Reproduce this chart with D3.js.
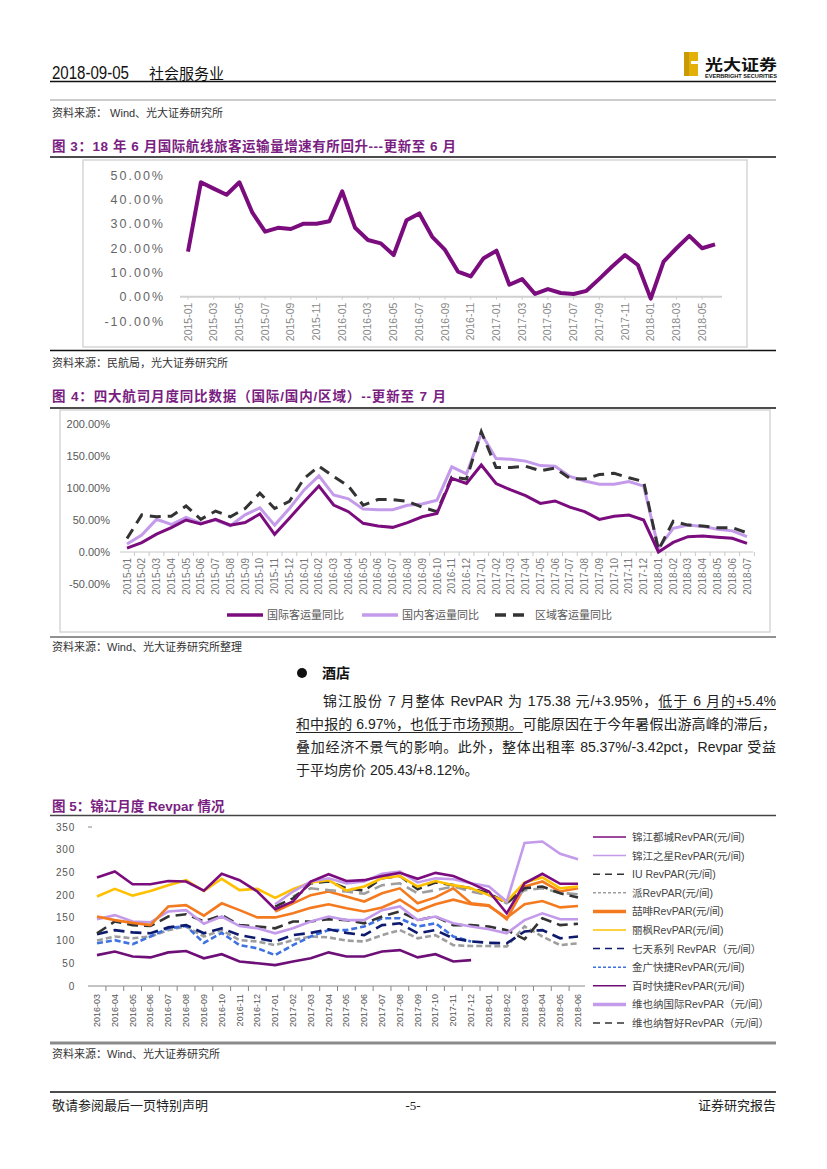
<!DOCTYPE html>
<html><head><meta charset="utf-8">
<script src="https://cdn.jsdelivr.net/npm/d3@7"></script>
<style>
body{margin:0;background:#fff;}
#page{position:relative;width:827px;height:1169px;overflow:hidden;}
svg{position:absolute;left:0;top:0;}
.pl{position:absolute;left:296px;width:480px;height:20px;line-height:20px;font-size:14px;color:#222;
 font-family:"Liberation Sans","Noto Sans CJK SC",sans-serif;text-align:justify;white-space:nowrap;}
.pl.j{text-align-last:justify;white-space:normal;}
.pl u{text-decoration:underline;text-underline-offset:3px;text-decoration-thickness:1px;}
</style></head>
<body><div id="page"><svg id="svg" width="827" height="1169"></svg>
<div class="pl j" style="top:691px;padding-left:27px;width:453px;">锦江股份 7 月整体 RevPAR 为 175.38 元/+3.95%，<u>低于 6 月的+5.4%</u></div>
<div class="pl j" style="top:714px;"><u>和中报的 6.97%，也低于市场预期。</u>可能原因在于今年暑假出游高峰的滞后，</div>
<div class="pl j" style="top:737px;">叠加经济不景气的影响。此外，整体出租率 85.37%/-3.42pct，Revpar 受益</div>
<div class="pl" style="top:760px;">于平均房价 205.43/+8.12%。</div>
</div>
<script>
// ---------------- DATA ----------------
const c3Months = ["2015-01","2015-02","2015-03","2015-04","2015-05","2015-06","2015-07","2015-08","2015-09","2015-10","2015-11","2015-12",
 "2016-01","2016-02","2016-03","2016-04","2016-05","2016-06","2016-07","2016-08","2016-09","2016-10","2016-11","2016-12",
 "2017-01","2017-02","2017-03","2017-04","2017-05","2017-06","2017-07","2017-08","2017-09","2017-10","2017-11","2017-12",
 "2018-01","2018-02","2018-03","2018-04","2018-05","2018-06"];
const c3Labels = ["2015-01","2015-03","2015-05","2015-07","2015-09","2015-11","2016-01","2016-03","2016-05","2016-07","2016-09","2016-11",
 "2017-01","2017-03","2017-05","2017-07","2017-09","2017-11","2018-01","2018-03","2018-05"];
const c3Values = [18.5,47,44.4,41.9,47,34.6,26.7,28.3,27.8,30,30,31,
 43.3,28.3,23.3,21.9,17.1,31.4,34.2,24.6,19.2,10.3,8.3,15.8,
 18.9,4.9,7.2,1.1,3.1,1.5,1.1,2.4,7.3,12.4,17.1,13,
 -0.8,14.4,19.9,25,19.9,21.5];
const c3YTicks = [-10,0,10,20,30,40,50];

const c4Months = ["2015-01","2015-02","2015-03","2015-04","2015-05","2015-06","2015-07","2015-08","2015-09","2015-10","2015-11","2015-12",
 "2016-01","2016-02","2016-03","2016-04","2016-05","2016-06","2016-07","2016-08","2016-09","2016-10","2016-11","2016-12",
 "2017-01","2017-02","2017-03","2017-04","2017-05","2017-06","2017-07","2017-08","2017-09","2017-10","2017-11","2017-12",
 "2018-01","2018-02","2018-03","2018-04","2018-05","2018-06","2018-07"];
const c4Intl = [6,14.6,28,38,50,43.7,51,42,46,59.4,27.6,52.6,
 78.6,103,73.4,63,44.8,40.6,38.5,46,55,60.4,115,107,
 136,107,97,88,76,79.7,70,63,51,56,57.8,50,
 0,15,24,25,23,21.4,13.5];
const c4Dom = [12.5,26.5,51,43,54,45,50,41,58,69,42,68,
 97,119,89,83,67,66,66,73,75,81,133,122,
 185,146,145,142,135,134,118,111,106,106,110,103,
 6,37,42,40,35.5,33,24];
const c4Reg = [21,58,55,56,72,51,64,55,68,92,68,79,
 115,134,118,103,73,82,82,79,70,63,117,114,
 188,132,132,134,127,131,115,114,121,123,116,110,
 3,48,42,40.6,38,38,30];
const c4Names = ["国际客运量同比","国内客运量同比","区域客运量同比"];
const c4YTicks = [-50,0,50,100,150,200];

const c5Months = ["2016-03","2016-04","2016-05","2016-06","2016-07","2016-08","2016-09","2016-10","2016-11","2016-12",
 "2017-01","2017-02","2017-03","2017-04","2017-05","2017-06","2017-07","2017-08","2017-09","2017-10","2017-11","2017-12",
 "2018-01","2018-02","2018-03","2018-04","2018-05","2018-06"];
const c5YTicks = [0,50,100,150,200,250,300,350];
const c5Names = ["锦江都城RevPAR(元/间)","锦江之星RevPAR(元/间)","IU RevPAR(元/间)","派RevPAR(元/间)","喆啡RevPAR(元/间)",
 "丽枫RevPAR(元/间)","七天系列 RevPAR（元/间）","金广快捷RevPAR(元/间)","百时快捷RevPAR(元/间)",
 "维也纳国际RevPAR（元/间）","维也纳智好RevPAR（元/间）","系列12","系列13"];
const N = null;
const c5Dushi   = [239,252,224,224,231,230,210,247,233,208,169,186,230,246,231,233,242,249,236,249,242,226,208,160,226,247,225,225];
const c5Zhixing = [147,156,142,140,164,167,137,153,132,127,116,127,142,153,145,145,167,175,145,153,138,131,125,116,145,160,147,147];
const c5IU      = [116,142,134,132,153,158,142,156,134,131,127,142,142,147,145,138,153,164,145,153,134,134,131,123,103,149,134,137];
const c5Pai     = [100,109,105,109,123,131,109,123,101,98,90,101,109,107,100,98,112,123,105,112,90,88,88,87,131,109,90,94];
const c5Zhefei  = [153,145,139,134,175,178,155,182,167,151,151,160,172,180,171,164,173,190,165,180,190,180,176,150,180,187,173,176];
const c5Lifeng  = [197,214,199,209,222,233,209,236,211,214,194,213,228,233,210,219,237,242,219,231,222,215,200,186,228,239,215,219];
const c5Qitian  = [114,123,118,116,129,134,116,127,112,105,98,112,117,125,117,112,134,138,116,123,105,98,95,94,120,123,105,109];
const c5Jinguang= [94,101,92,109,127,132,95,117,90,83,68,90,109,123,123,131,149,149,131,138,109,98,N,N,N,N,N,N];
const c5Baishi  = [68,76,65,63,74,77,61,70,54,50,46,54,61,74,65,65,76,79,63,70,54,57,N,N,N,N,N,N];
const c5ViennaI = [N,N,N,N,N,N,N,N,N,N,180,208,230,237,226,230,247,252,228,237,235,226,219,186,315,318,291,279];
const c5ViennaZ = [N,N,N,N,N,N,N,N,N,N,175,193,226,230,215,210,237,242,213,228,222,215,204,183,215,219,204,195];
const c5Extra12 = [N,N,N,N,N,N,N,N,N,N,N,197,215,211,208,203,222,226,204,211,219,208,200,182,211,215,205,202];
const c5Extra13 = [N,N,N,N,N,N,N,N,N,N,164,182,200,208,197,186,204,215,182,195,215,182,178,147,219,230,208,215];
const c5Series = [c5Dushi,c5Zhixing,c5IU,c5Pai,c5Zhefei,c5Lifeng,c5Qitian,c5Jinguang,c5Baishi,c5ViennaI,c5ViennaZ,c5Extra12,c5Extra13];

// ---------------- STYLES ----------------
const FONT = '"Liberation Sans","Noto Sans CJK SC",sans-serif';
const CJK = '"Noto Sans CJK SC",sans-serif';
const PURPLE = "#7B0C7E", LPURPLE = "#C49BEA", DARK = "#333333", GREY = "#9E9E9E",
      ORANGE = "#F47A20", YELLOW = "#FFC000", NAVY = "#0D1A6E", BLUE = "#3F72E0", TITLE = "#7A1E82";
const c5Style = [
 {c:PURPLE, d:null, lw:1.5},{c:LPURPLE, d:null, lw:1.5},{c:DARK, d:"7,5", lw:1.5},{c:GREY, d:"3,2", lw:1.5},
 {c:ORANGE, d:null, lw:3.5},{c:YELLOW, d:null, lw:1.5},{c:NAVY, d:"7,5", lw:1.5},{c:BLUE, d:"3,2", lw:1.5},
 {c:"#6E0F78", d:null, lw:1.5},{c:LPURPLE, d:null, lw:3.5},{c:DARK, d:"7,5", lw:1.5},
 {c:GREY, d:"5,3", lw:1.5},{c:ORANGE, d:null, lw:3}
];

const svg = d3.select("#svg");
function hline(y, x1, x2, color, w){ svg.append("line").attr("x1",x1).attr("x2",x2).attr("y1",y).attr("y2",y).attr("stroke",color).attr("stroke-width",w); }
function txt(x, y, s, size, opts={}){
  const t = svg.append("text").attr("x",x).attr("y",y).text(s)
    .style("font-family", opts.family || FONT).style("font-size", size+"px")
    .attr("fill", opts.fill || "#222").attr("text-anchor", opts.anchor || "start")
    .style("font-weight", opts.weight || "normal");
  if (opts.ls) t.style("letter-spacing", opts.ls+"px");
  if (opts.len) t.attr("textLength", opts.len).attr("lengthAdjust", opts.adj || "spacingAndGlyphs");
  return t;
}

// ---------------- HEADER ----------------
txt(52, 79, "2018-09-05", 17.5, {fill:"#111", len:77});
txt(149, 79, "社会服务业", 15, {family:CJK, fill:"#111"});
// logo
const lg = svg.append("g");
lg.append("rect").attr("x",684).attr("y",52).attr("width",14).attr("height",24).attr("fill","#E2B007");
lg.append("rect").attr("x",691).attr("y",61).attr("width",7).attr("height",3).attr("fill","#fff");
lg.append("rect").attr("x",684).attr("y",52).attr("width",5).attr("height",24).attr("fill","#C99A05");
txt(705, 70, "光大证券", 15, {family:CJK, weight:"bold", fill:"#111", len:72});
txt(705, 77.5, "EVERBRIGHT SECURITIES", 5, {weight:"bold", fill:"#111", len:72});
hline(81.5, 50, 776, "#111", 1.5);
hline(100, 50, 776, "#999", 1);
txt(52, 117, "资料来源： Wind、光大证券研究所", 11, {fill:"#333"});

// ---------------- CHART 3 ----------------
txt(52, 151, "图 3：18 年 6 月国际航线旅客运输量增速有所回升---更新至 6 月", 13.5, {fill:TITLE, weight:"bold", len:404, adj:"spacing"});
hline(157, 50, 776, "#111", 1.5);
svg.append("rect").attr("x",83).attr("y",160).attr("width",664).attr("height",187).attr("fill","none").attr("stroke","#d6d6d6").attr("stroke-width",1.5);
{
  const x = d3.scalePoint().domain(c3Months).range([188,715]);
  const y = d3.scaleLinear().domain([-10,50]).range([321,175]);
  const g = svg.append("g");
  c3YTicks.forEach(v => txt(165, y(v)+4.5, v.toFixed(2)+"%", 12.5, {fill:"#666", anchor:"end", ls:2}));
  g.append("line").attr("x1",180).attr("x2",722).attr("y1",y(0)).attr("y2",y(0)).attr("stroke","#d0d0d0").attr("stroke-width",2);
  c3Labels.forEach(m => {
    g.append("line").attr("x1",x(m)).attr("x2",x(m)).attr("y1",y(0)).attr("y2",y(0)+3).attr("stroke","#ccc");
    svg.append("text").attr("transform",`translate(${x(m)+3.5},${y(0)+6}) rotate(-90)`).attr("text-anchor","end")
      .style("font-family",FONT).style("font-size","10.5px").attr("fill","#888").text(m);
  });
  g.append("path").datum(c3Values).attr("fill","none").attr("stroke",PURPLE).attr("stroke-width",4).attr("stroke-linejoin","round")
    .attr("d", d3.line().x((d,i)=>x(c3Months[i])).y(d=>y(d)));
}
hline(350.5, 50, 776, "#111", 1.5);
txt(52, 367, "资料来源：民航局，光大证券研究所", 11, {fill:"#333"});

// ---------------- CHART 4 ----------------
txt(52, 401, "图 4：四大航司月度同比数据（国际/国内/区域）--更新至 7 月", 13.5, {fill:TITLE, weight:"bold", len:394, adj:"spacing"});
hline(408, 50, 776, "#111", 1.5);
svg.append("rect").attr("x",60).attr("y",410).attr("width",710).attr("height",222).attr("fill","none").attr("stroke","#d6d6d6").attr("stroke-width",1.5);
{
  const x = d3.scalePoint().domain(c4Months).range([127,747]);
  const y = d3.scaleLinear().domain([-50,200]).range([584,424]);
  const step = x.step();
  c4YTicks.forEach(v => txt(110, y(v)+4, v.toFixed(2)+"%", 11, {fill:"#595959", anchor:"end"}));
  const g = svg.append("g");
  g.append("line").attr("x1",120).attr("x2",753).attr("y1",y(0)).attr("y2",y(0)).attr("stroke","#c8c8c8").attr("stroke-width",1);
  c4Months.forEach(m => {
    g.append("line").attr("x1",x(m)+step/2).attr("x2",x(m)+step/2).attr("y1",y(0)).attr("y2",y(0)+4).attr("stroke","#c8c8c8");
    svg.append("text").attr("transform",`translate(${x(m)+3.5},${y(0)+6}) rotate(-90)`).attr("text-anchor","end")
      .style("font-family",FONT).style("font-size","10px").attr("fill","#777").text(m);
  });
  const ln = d3.line().x((d,i)=>x(c4Months[i])).y(d=>y(d));
  g.append("path").datum(c4Dom).attr("fill","none").attr("stroke",LPURPLE).attr("stroke-width",3).attr("d",ln);
  g.append("path").datum(c4Reg).attr("fill","none").attr("stroke",DARK).attr("stroke-width",3).attr("stroke-dasharray","11,7").attr("d",ln);
  g.append("path").datum(c4Intl).attr("fill","none").attr("stroke",PURPLE).attr("stroke-width",3).attr("d",ln);
  // legend
  const lx = [227, 362, 495];
  const ls = [{c:PURPLE,d:null},{c:LPURPLE,d:null},{c:DARK,d:"11,7"}];
  c4Names.forEach((n,i)=>{
    g.append("line").attr("x1",lx[i]).attr("x2",lx[i]+36).attr("y1",615).attr("y2",615).attr("stroke",ls[i].c).attr("stroke-width",3.5).attr("stroke-dasharray",ls[i].d);
    txt(lx[i]+40, 619, n, 11, {fill:"#595959"});
  });
}
hline(637, 50, 776, "#222", 1);
txt(52, 651, "资料来源：Wind、光大证券研究所整理", 11, {fill:"#333"});

// ---------------- HOTEL TEXT ----------------
svg.append("circle").attr("cx",302).attr("cy",673).attr("r",5).attr("fill","#111");
txt(322, 678, "酒店", 14, {family:CJK, weight:"bold", fill:"#111"});

// ---------------- CHART 5 ----------------
txt(52, 811, "图 5：锦江月度 Revpar 情况", 13.5, {fill:TITLE, weight:"bold"});
hline(815.5, 50, 776, "#444", 1.5);
{
  const x = d3.scalePoint().domain(c5Months).range([97,578]);
  const y = d3.scaleLinear().domain([0,350]).range([986,827]);
  const step = x.step();
  c5YTicks.forEach(v => txt(75, y(v)+3.5, String(v), 10, {fill:"#555", anchor:"end", ls:0.8}));
  const g = svg.append("g");
  g.append("line").attr("x1",88).attr("x2",92).attr("y1",y(350)).attr("y2",y(350)).attr("stroke","#888");
  g.append("line").attr("x1",88).attr("x2",585).attr("y1",y(0)).attr("y2",y(0)).attr("stroke","#888").attr("stroke-width",1);
  c5Months.forEach((m,i) => {
    if (i < c5Months.length-1)
      g.append("line").attr("x1",x(m)+step/2).attr("x2",x(m)+step/2).attr("y1",y(0)).attr("y2",y(0)+5).attr("stroke","#888");
    svg.append("text").attr("transform",`translate(${x(m)+3},${y(0)+8}) rotate(-90)`).attr("text-anchor","end")
      .style("font-family",FONT).style("font-size","9px").attr("fill","#555").text(m);
  });
  const ln = d3.line().defined(d=>d!=null).x((d,i)=>x(c5Months[i])).y(d=>y(d));
  const order = [3,7,6,8,2,1,4,12,11,10,5,9,0];
  order.forEach(k => {
    const st = c5Style[k];
    g.append("path").datum(c5Series[k]).attr("fill","none").attr("stroke",st.c).attr("stroke-width",2.6)
      .attr("stroke-dasharray", st.d ? (st.d==="3,2" ? "6,3" : "11,6") : null).attr("d",ln);
  });
  // legend (first 11 entries visible)
  for (let i=0;i<11;i++){
    const yy = 837 + i*18.6;
    const st = c5Style[i];
    g.append("line").attr("x1",593).attr("x2",626).attr("y1",yy).attr("y2",yy).attr("stroke",st.c).attr("stroke-width",st.lw).attr("stroke-dasharray",st.d);
    txt(632, yy+4, c5Names[i], 10.5, {fill:"#444"});
  }
}
hline(1043, 50, 776, "#8a8a8a", 3);
txt(52, 1058, "资料来源：Wind、光大证券研究所", 11, {fill:"#333"});

// ---------------- FOOTER ----------------
hline(1092, 50, 776, "#111", 1.5);
txt(52, 1110, "敬请参阅最后一页特别声明", 13, {family:CJK, fill:"#222"});
txt(413, 1110, "-5-", 13, {fill:"#222", anchor:"middle", family:'"Liberation Serif",serif'});
txt(776, 1110, "证券研究报告", 13, {family:CJK, fill:"#222", anchor:"end"});
</script>
</body></html>
